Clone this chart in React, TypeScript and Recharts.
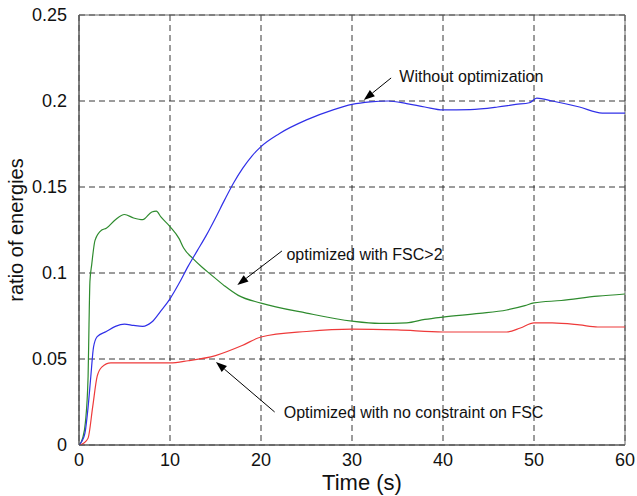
import { CartesianGrid, Line, LineChart, ReferenceArea, ReferenceDot, ReferenceLine, XAxis, YAxis } from "recharts";

const BLUE_T = [0, 0.3, 0.66, 1, 1.3, 1.6, 2, 3, 4, 5, 6, 7, 8, 9, 10, 11, 12, 13, 14, 15, 16, 17, 18, 19, 20, 22, 25, 28, 30, 32, 34, 36, 38, 40, 43, 46, 48, 49.5, 50.3, 52, 55, 57.5, 60];
const BLUE_V = [0, 0.002, 0.007, 0.022, 0.04, 0.057, 0.063, 0.066, 0.069, 0.0703, 0.0695, 0.069, 0.0715, 0.078, 0.085, 0.094, 0.104, 0.113, 0.122, 0.132, 0.1425, 0.1525, 0.161, 0.168, 0.1735, 0.181, 0.189, 0.195, 0.198, 0.1995, 0.2, 0.1985, 0.1965, 0.1948, 0.195, 0.1965, 0.198, 0.199, 0.2017, 0.2, 0.1965, 0.193, 0.193];

const GREEN_T = [0, 0.4, 0.7, 1, 1.1, 1.2, 1.4, 1.76, 2.5, 3, 4, 5, 6, 7, 8, 8.5, 9, 10, 11, 11.5, 12.5, 13.5, 14.4, 16, 17.5, 20, 25, 30, 33, 36, 38, 40, 44, 47, 49, 50, 53, 57, 60];
const GREEN_V = [0, 0.004, 0.013, 0.04, 0.07, 0.095, 0.105, 0.119, 0.125, 0.126, 0.131, 0.134, 0.132, 0.131, 0.1355, 0.136, 0.1326, 0.127, 0.12, 0.1145, 0.1085, 0.1035, 0.0995, 0.0925, 0.087, 0.0825, 0.0767, 0.072, 0.0707, 0.071, 0.073, 0.0744, 0.0765, 0.0785, 0.081, 0.0826, 0.084, 0.0865, 0.0878];

const RED_T = [0, 0.5, 1, 1.5, 2, 2.5, 3.5, 10, 12, 15, 18, 20, 25, 30, 35, 40, 47, 48.5, 50, 52, 55, 57, 60];
const RED_V = [0, 0.001, 0.004, 0.022, 0.04, 0.0453, 0.0477, 0.0477, 0.049, 0.052, 0.058, 0.0628, 0.066, 0.0674, 0.0669, 0.0657, 0.0657, 0.068, 0.071, 0.071, 0.0698, 0.0686, 0.0686];

const X_TICKS = [0, 10, 20, 30, 40, 50, 60];
const Y_TICKS = [0, 0.05, 0.1, 0.15, 0.2, 0.25];

// text anchor (t, v) and arrow from (t1, v1) to head (t2, v2)
const NOTES = [
  { text: "Without optimization", t: 35.2, v: 0.2145, t1: 34.3, v1: 0.2134, t2: 31.3, v2: 0.2006 },
  { text: "optimized with FSC>2", t: 22.8, v: 0.111, t1: 22.3, v1: 0.1128, t2: 17.4, v2: 0.093 },
  { text: "Optimized with no constraint on FSC", t: 22.5, v: 0.0192, t1: 21.5, v1: 0.0192, t2: 15.05, v2: 0.0483 },
];

const FONT = "'Liberation Sans', Arial, sans-serif";

const zip = (ts: number[], vs: number[]) => ts.map((t, i) => ({ t, v: vs[i] }));

function Arrow(props: any) {
  const { x1, y1, x2, y2 } = props;
  const ang = Math.atan2(y2 - y1, x2 - x1);
  const len = 11;
  const w = 4;
  const bx = x2 - len * Math.cos(ang);
  const by = y2 - len * Math.sin(ang);
  const px = -Math.sin(ang) * w;
  const py = Math.cos(ang) * w;
  return (
    <g>
      <line x1={x1} y1={y1} x2={bx} y2={by} stroke="#000" strokeWidth={1} />
      <polygon points={`${x2},${y2} ${bx + px},${by + py} ${bx - px},${by - py}`} fill="#000" />
    </g>
  );
}

export default function App() {
  return (
    <div style={{ width: 637, height: 496, background: "#fff", fontFamily: FONT }}>
      <style>{`body{margin:0;background:#fff}`}</style>
      <LineChart width={637} height={496} margin={{ top: 15, right: 12, bottom: 0, left: 0 }}>
        <CartesianGrid stroke="#222" strokeDasharray="6 4" strokeWidth={0.9} />
        <XAxis
          type="number"
          dataKey="t"
          domain={[0, 60]}
          ticks={X_TICKS}
          allowDataOverflow
          height={51}
          tickLine={false}
          axisLine={{ stroke: "#555" }}
          tick={{ fill: "#111", fontSize: 18, fontFamily: FONT }}
          tickMargin={2}
          label={{ value: "Time (s)", position: "insideBottom", offset: 6, dx: 10, fill: "#111", fontSize: 22, fontFamily: FONT }}
        />
        <YAxis
          type="number"
          dataKey="v"
          domain={[0, 0.25]}
          ticks={Y_TICKS}
          allowDataOverflow
          width={79}
          tickLine={false}
          axisLine={{ stroke: "#555" }}
          tickFormatter={(v: number) => String(v)}
          tick={{ fill: "#111", fontSize: 18, fontFamily: FONT }}
          tickMargin={6}
          label={{ value: "ratio of energies", angle: -90, position: "insideLeft", offset: 16, fill: "#111", fontSize: 20, fontFamily: FONT, style: { textAnchor: "middle" } }}
        />
        <ReferenceArea x1={0} x2={60} y1={0} y2={0.25} fill="none" stroke="#666" strokeWidth={1} />
        <Line data={zip(GREEN_T, GREEN_V)} dataKey="v" type="monotone" stroke="#2e8b2e" strokeWidth={1.2} dot={false} isAnimationActive={false} />
        <Line data={zip(RED_T, RED_V)} dataKey="v" type="monotone" stroke="#ee3a3a" strokeWidth={1.2} dot={false} isAnimationActive={false} />
        <Line data={zip(BLUE_T, BLUE_V)} dataKey="v" type="monotone" stroke="#3030e8" strokeWidth={1.2} dot={false} isAnimationActive={false} />
        {NOTES.map((n) => (
          <ReferenceLine
            key={n.text + "-arrow"}
            segment={[{ x: n.t1, y: n.v1 }, { x: n.t2, y: n.v2 }]}
            shape={Arrow}
          />
        ))}
        {NOTES.map((n) => (
          <ReferenceDot
            key={n.text}
            x={n.t}
            y={n.v}
            r={0}
            fill="none"
            stroke="none"
            label={{ value: n.text, position: "right", offset: 0, fill: "#111", fontSize: 16, fontFamily: FONT }}
          />
        ))}
      </LineChart>
    </div>
  );
}
